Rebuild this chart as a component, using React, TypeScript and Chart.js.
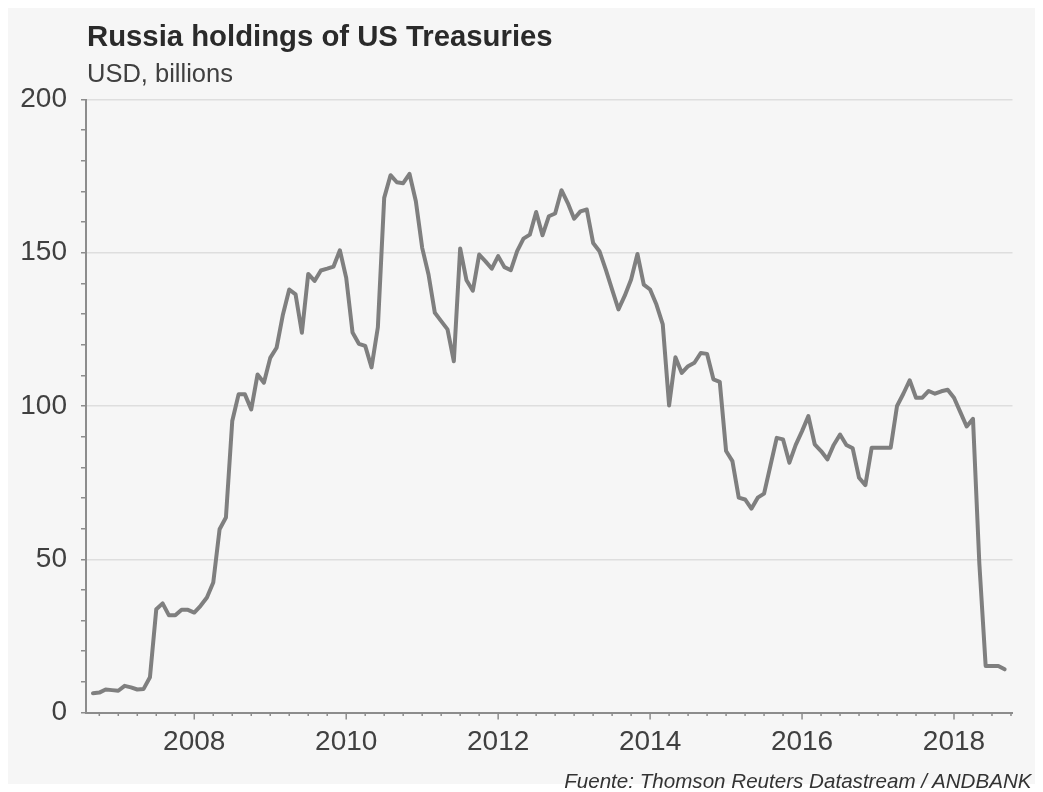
import React, { useEffect, useRef } from "react";
import { Chart, registerables } from "chart.js";

Chart.register(...registerables);

// ---- Data (USD billions, monthly, end-of-month) ----
const START_YEAR = 2006;
const START_MONTH = 8; // first value is August 2006

const v2006 = [6.3, 6.5, 7.5, 7.3, 7.1];
const v2007 = [8.7, 8.2, 7.5, 7.7, 11.5, 33.7, 35.6, 31.7, 31.7, 33.5, 33.5, 32.6];
const v2008 = [34.8, 37.5, 42.4, 59.8, 63.6, 95.1, 103.8, 103.8, 98.9, 110.3, 107.6, 115.7];
const v2009 = [119, 129.8, 138, 136.4, 123.9, 143.1, 140.8, 144.2, 144.8, 145.5, 150.8, 141.8];
const v2010 = [124, 120.3, 119.6, 112.6, 125.7, 167.9, 175.3, 173, 172.7, 175.7, 166.8, 151.6];
const v2011 = [142.9, 130.4, 127.7, 125, 114.6, 151.4, 141, 137.6, 149.4, 147.2, 144.8, 148.9];
const v2012 = [145.3, 144.3, 150.5, 154.6, 155.9, 163.3, 155.7, 161.9, 162.8, 170.4, 166.2, 161.1];
const v2013 = [163.5, 164.1, 153.2, 150.5, 144.5, 138, 131.5, 136, 141.3, 149.6, 139.6, 138];
const v2014 = [133.1, 126.6, 100.2, 115.9, 110.8, 113, 114.1, 117.3, 117, 108.7, 107.9, 85.3];
const v2015 = [82, 70.1, 69.5, 66.5, 70.1, 71.4, 80.5, 89.6, 89.1, 81.5, 87.3, 91.8];
const v2016 = [96.7, 87.5, 85.3, 82.6, 87.3, 90.7, 87.3, 86.2, 76.6, 74.2, 86.4, 86.4];
const v2017 = [86.4, 86.4, 100, 104, 108.4, 102.7, 102.7, 104.9, 104, 104.8, 105.3, 102.7];
const v2018 = [98, 93.3, 95.8, 48.7, 15.2, 15.2, 15.2, 14.1];

const yearlyValues = [v2006, v2007, v2008, v2009, v2010, v2011, v2012, v2013, v2014, v2015, v2016, v2017, v2018];

const xTickYears = [2008, 2010, 2012, 2014, 2016, 2018];
const yTickLabels = [0, 50, 100, 150, 200];

const TITLE = "Russia holdings of US Treasuries";
const SUBTITLE = "USD, billions";
const SOURCE = "Fuente: Thomson Reuters Datastream / ANDBANK";

const FONT = '"Liberation Sans", Arial, Helvetica, sans-serif';
const AXIS_GRAY = "#8c8c8c";

function buildPoints() {
  const pts: { x: number; y: number }[] = [];
  yearlyValues.forEach((arr, yi) => {
    const year = START_YEAR + yi;
    const firstMonth = yi === 0 ? START_MONTH : 1;
    arr.forEach((v, i) => {
      const m = firstMonth + i;
      pts.push({ x: year + m / 12, y: v });
    });
  });
  return pts;
}

function isLabeledYear(v: number) {
  const r = Math.round(v);
  return Math.abs(v - r) < 1e-6 && xTickYears.includes(r);
}

const xTickMarks = {
  id: "xTickMarks",
  afterDraw(chart: any) {
    const s = chart.scales.x;
    const ctx = chart.ctx;
    const y0 = chart.chartArea.bottom;
    ctx.save();
    ctx.strokeStyle = AXIS_GRAY;
    ctx.lineWidth = 1.5;
    s.ticks.forEach((t: any) => {
      const px = s.getPixelForValue(t.value);
      const major = isLabeledYear(t.value);
      ctx.beginPath();
      ctx.moveTo(px, y0);
      ctx.lineTo(px, y0 + (major ? 7 : 3.5));
      ctx.stroke();
    });
    ctx.restore();
  },
};

export default function App() {
  const ref = useRef<HTMLCanvasElement | null>(null);

  useEffect(() => {
    document.documentElement.style.overflow = "hidden";
    document.body.style.margin = "8px 8px 0 8px";
    const canvas = ref.current;
    if (!canvas) return;
    const chart = new Chart(canvas, {
      type: "line",
      data: {
        datasets: [
          {
            data: buildPoints(),
            borderColor: "#7f7f7f",
            borderWidth: 4,
            pointRadius: 0,
            tension: 0,
            borderJoinStyle: "round",
            borderCapStyle: "round",
          },
        ],
      },
      options: {
        animation: false,
        responsive: false,
        maintainAspectRatio: false,
        layout: { padding: { left: 0, right: 22.5, top: 91.5, bottom: 0 } },
        plugins: {
          legend: { display: false },
          tooltip: { enabled: false },
          title: { display: false },
        },
        scales: {
          x: {
            type: "linear",
            min: 2006.575,
            max: 2018.77,
            afterFit: (s: any) => {
              s.height = 71.5;
            },
            border: { color: AXIS_GRAY, width: 2 },
            grid: {
              drawOnChartArea: false,
              drawTicks: true,
              tickLength: 7,
              tickColor: "transparent",
            },
            ticks: {
              stepSize: 0.25,
              autoSkip: false,
              maxRotation: 0,
              minRotation: 0,
              includeBounds: false,
              padding: 6,
              color: "#404040",
              font: { family: FONT, size: 28 },
              callback: (v: any) => (isLabeledYear(Number(v)) ? String(Math.round(Number(v))) : ""),
            },
          },
          y: {
            min: 0,
            max: 200,
            afterFit: (s: any) => {
              s.width = 78;
            },
            border: { color: AXIS_GRAY, width: 2 },
            grid: {
              color: (ctx: any) =>
                ctx.tick && ctx.tick.value > 0 && yTickLabels.includes(ctx.tick.value) ? "#dedede" : "transparent",
              lineWidth: 1.5,
              tickLength: 5,
              tickColor: AXIS_GRAY,
            },
            ticks: {
              stepSize: 10,
              autoSkip: false,
              padding: 14,
              color: "#404040",
              font: { family: FONT, size: 28 },
              callback: (v: any) => (yTickLabels.includes(Number(v)) ? String(v) : ""),
            },
          },
        },
      },
      plugins: [xTickMarks],
    } as any);
    return () => chart.destroy();
  }, []);

  return (
    <div
      style={{
        position: "relative",
        width: 1027,
        height: 784,
        fontFamily: FONT,
      }}
    >
      <div
        style={{
          position: "absolute",
          left: 0,
          top: 0,
          width: 1027,
          height: 776,
          background: "#f6f6f6",
        }}
      />
      <canvas
        ref={ref}
        width={1027}
        height={776}
        style={{ position: "absolute", left: 0, top: 0, width: 1027, height: 776 }}
      />
      <div
        style={{
          position: "absolute",
          left: 79,
          top: 12.5,
          fontSize: 29.3,
          lineHeight: "29px",
          fontWeight: "bold",
          color: "#2a2a2a",
          whiteSpace: "nowrap",
        }}
      >
        {TITLE}
      </div>
      <div
        style={{
          position: "absolute",
          left: 79,
          top: 52.5,
          fontSize: 25.5,
          lineHeight: "25px",
          color: "#404040",
          whiteSpace: "nowrap",
        }}
      >
        {SUBTITLE}
      </div>
      <div
        style={{
          position: "absolute",
          right: 3.5,
          top: 763,
          fontSize: 20.6,
          lineHeight: "20.6px",
          fontStyle: "italic",
          color: "#333333",
          whiteSpace: "nowrap",
        }}
      >
        {SOURCE}
      </div>
    </div>
  );
}
